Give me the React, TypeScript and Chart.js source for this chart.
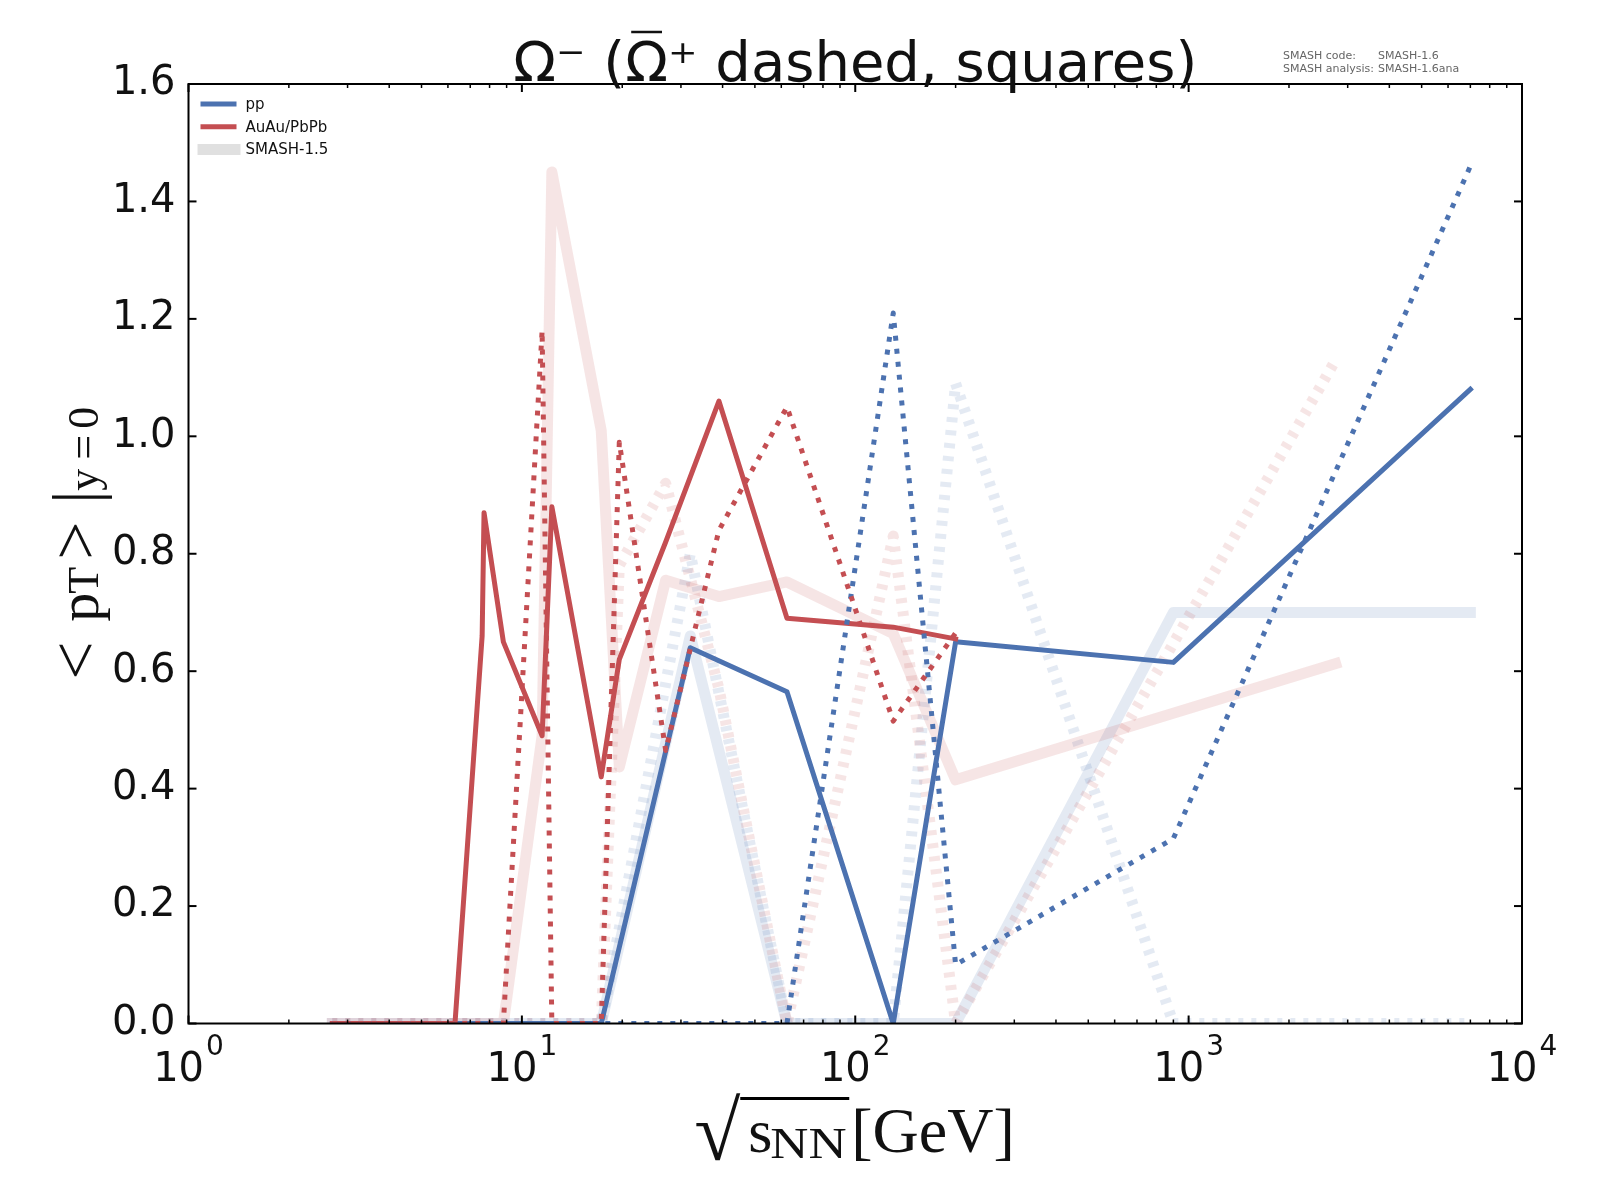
import React, { useEffect, useRef } from "react";
import { Chart, registerables } from "chart.js";

Chart.register(...registerables);

// ---------------- data ----------------
// pp (SMASH-1.6 and SMASH-1.5)
const ppEnergies = [2.7, 6.3, 8.8, 17.3, 32, 62.4, 130, 200, 900, 7000];
const ppOmega = [0, 0, 0, 0, 0.64, 0.565, 0.0, 0.65, 0.615, 1.08];
const ppAntiOmega = [0, 0, 0, 0, 0, 0, 1.21, 0.1, 0.315, 1.46];
const ppOmegaOld = [0, 0, 0, 0, 0.66, 0, 0, 0, 0.7, 0.7];
const ppAntiOmegaOld = [0, 0, 0, 0, 0.8, 0, 0, 1.09, 0, 0];

// AuAu / PbPb (SMASH-1.6)
const aaEnergies = [2.7, 4.3, 6.3, 7.6, 7.7, 8.8, 11.5, 12.3, 17.3, 19.6, 27, 39, 62.4, 130, 200];
const aaOmega = [0, 0, 0, 0.66, 0.87, 0.65, 0.49, 0.88, 0.42, 0.62, 0.82, 1.06, 0.69, 0.675, 0.655];
const aaAntiOmega = [0, 0, 0, 0, 0, 0, 1.18, 0, 0, 0.99, 0.465, 0.84, 1.05, 0.515, 0.665];

// AuAu / PbPb (SMASH-1.5)
const aaEnergiesOld = [2.7, 4.3, 6.3, 7.6, 7.7, 8.8, 11.5, 12.3, 17.3, 19.6, 27, 39, 62.4, 130, 200, 2760];
const aaOmegaOld = [0, 0, 0, 0, 0, 0, 0.49, 1.45, 1.01, 0.437, 0.755, 0.727, 0.752, 0.664, 0.415, 0.613];
const aaAntiOmegaOld = [0, 0, 0, 0, 0, 0, 0, 0, 0, 0.78, 0.92, 0.57, 0, 0.83, 0, 1.13];

// axes / text
const xMin = 1;
const xMax = 10000;
const yMin = 0;
const yMax = 1.6;
const yStep = 0.2;
const xDecades = [1, 10, 100, 1000, 10000];
const xExponents = ["0", "1", "2", "3", "4"];
const legendLabels = ["pp", "AuAu/PbPb", "SMASH-1.5"];
const titleParts = ["Ω⁻ (", "Ω", "⁺ dashed, squares)"];
const versionLabels = ["SMASH code:", "SMASH analysis:"];
const versionValues = ["SMASH-1.6", "SMASH-1.6ana"];

// ---------------- style ----------------
const BLUE = "#4c72b0";
const RED = "#c44e52";
const BLUE_FADED = "rgba(76,114,176,0.15)";
const RED_FADED = "rgba(196,78,82,0.15)";
const GREY_FADED = "rgba(0,0,0,0.12)";
const DOT = [5, 8];
const SANS = "'DejaVu Sans', sans-serif";
const SERIF = "'Liberation Serif', 'DejaVu Serif', serif";

const toPoints = (xs: number[], ys: number[]) => xs.map((x, i) => ({ x, y: ys[i] }));

function makeLine(data: { x: number; y: number }[], color: string, width: number, dotted: boolean, order: number) {
  return {
    data,
    borderColor: color,
    backgroundColor: color,
    borderWidth: width,
    borderDash: dotted ? DOT : [],
    borderCapStyle: dotted ? "butt" : "square",
    borderJoinStyle: "round",
    pointRadius: 0,
    pointHoverRadius: 0,
    tension: 0,
    fill: false,
    clip: 0,
    order,
  } as any;
}

const decorPlugin = {
  id: "decor",
  afterDraw(chart: any) {
    const { ctx, chartArea: a, scales } = chart;
    const xs = scales.x;
    const ys = scales.y;
    const cx = (a.left + a.right) / 2;
    const cy = (a.top + a.bottom) / 2;
    ctx.save();

    const seg = (x1: number, y1: number, x2: number, y2: number) => {
      ctx.beginPath();
      ctx.moveTo(x1, y1);
      ctx.lineTo(x2, y2);
      ctx.stroke();
    };

    // ticks (inward, all four sides)
    ctx.strokeStyle = "#000";
    ctx.lineWidth = 1.5;
    for (let k = 0; k < xDecades.length - 1; k++) {
      for (let d = 2; d <= 9; d++) {
        const px = xs.getPixelForValue(d * xDecades[k]);
        seg(px, a.bottom, px, a.bottom - 4);
        seg(px, a.top, px, a.top + 4);
      }
    }
    ctx.lineWidth = 2;
    xDecades.forEach((v) => {
      const px = xs.getPixelForValue(v);
      seg(px, a.bottom, px, a.bottom - 8);
      seg(px, a.top, px, a.top + 8);
    });
    ys.ticks.forEach((t: any) => {
      const py = ys.getPixelForValue(t.value);
      seg(a.left, py, a.left + 8, py);
      seg(a.right, py, a.right - 8, py);
    });

    // frame
    ctx.lineWidth = 2;
    ctx.strokeRect(a.left, a.top, a.right - a.left, a.bottom - a.top);

    // x tick labels 10^n
    ctx.fillStyle = "#111";
    ctx.textBaseline = "alphabetic";
    ctx.textAlign = "left";
    xDecades.forEach((v, i) => {
      const px = xs.getPixelForValue(v);
      ctx.font = `40px ${SANS}`;
      const w10 = ctx.measureText("10").width;
      ctx.font = `28px ${SANS}`;
      const we = ctx.measureText(xExponents[i]).width;
      const start = px - (w10 + we + 2) / 2;
      ctx.font = `40px ${SANS}`;
      ctx.fillText("10", start, a.bottom + 57);
      ctx.font = `28px ${SANS}`;
      ctx.fillText(xExponents[i], start + w10 + 2, a.bottom + 31);
    });

    // x axis title: sqrt(s_NN) [GeV]
    {
      const base = a.bottom + 128;
      const x0 = cx - 157;
      ctx.font = `84px ${SERIF}`;
      ctx.fillText("√", x0 - 4, base + 8);
      ctx.lineWidth = 3;
      seg(x0 + 42, a.bottom + 75, x0 + 151, a.bottom + 75);
      ctx.font = `62px ${SERIF}`;
      ctx.fillText("s", x0 + 50, base);
      ctx.font = `44px ${SERIF}`;
      ctx.save();
      ctx.scale(1.2, 1);
      ctx.fillText("NN", (x0 + 72) / 1.2, base + 6);
      ctx.restore();
      ctx.font = `64px ${SERIF}`;
      ctx.fillText("[GeV]", x0 + 153, base);
    }

    // y axis title: <p_T>|_{y=0}
    {
      const pieces = [
        { t: "<", size: 68, at: 126, sub: false },
        { t: "p", size: 58, at: 68, sub: false },
        { t: "T", size: 44, at: 40, sub: true },
        { t: ">", size: 68, at: 6, sub: false },
        { t: "|", size: 66, at: -50, sub: false },
        { t: "y", size: 44, at: -63, sub: true },
        { t: "=", size: 44, at: -94, sub: true },
        { t: "0", size: 44, at: -125, sub: true },
      ];
      ctx.save();
      ctx.translate(98, cy);
      ctx.rotate(-Math.PI / 2);
      pieces.forEach((p) => {
        ctx.font = `${p.size}px ${SERIF}`;
        ctx.fillText(p.t, -p.at, p.sub ? 0 : 0);
      });
      ctx.restore();
    }

    // title with overbar on the second Omega
    {
      ctx.font = `56px ${SANS}`;
      ctx.fillStyle = "#111";
      ctx.textAlign = "left";
      const widths = titleParts.map((p) => ctx.measureText(p).width);
      const total = widths.reduce((s, w) => s + w, 0);
      let x = cx - total / 2;
      const base = a.top - 3;
      titleParts.forEach((p, i) => {
        ctx.fillText(p, x, base);
        if (i === 1) {
          ctx.strokeStyle = "#111";
          ctx.lineWidth = 2.5;
          seg(x + 6, base - 49, x + widths[i] - 6, base - 49);
        }
        x += widths[i];
      });
    }

    // version text (top right)
    ctx.font = `11px ${SANS}`;
    ctx.textAlign = "left";
    ctx.fillStyle = "#666";
    versionLabels.forEach((lab, i) => {
      ctx.fillText(lab, 1283, 59 + i * 12.5);
      ctx.fillText(versionValues[i], 1378, 59 + i * 12.5);
    });

    // legend
    const legendColors = [BLUE, RED, GREY_FADED];
    const legendWidths = [5, 5, 11];
    ctx.textBaseline = "middle";
    ctx.font = `15px ${SANS}`;
    legendLabels.forEach((lab, i) => {
      const y = a.top + 20 + i * 22.7;
      ctx.strokeStyle = legendColors[i];
      ctx.lineWidth = legendWidths[i];
      ctx.lineCap = "butt";
      if (i === 2) seg(a.left + 9, y, a.left + 52, y);
      else seg(a.left + 12, y, a.left + 48, y);
      ctx.fillStyle = "#111";
      ctx.fillText(lab, a.left + 57, y + 1);
    });

    ctx.restore();
  },
};

export default function App() {
  const ref = useRef<HTMLCanvasElement | null>(null);

  useEffect(() => {
    if (!ref.current) return;
    const datasets = [
      makeLine(toPoints(ppEnergies, ppOmegaOld), BLUE_FADED, 11, false, 8),
      makeLine(toPoints(ppEnergies, ppAntiOmegaOld), BLUE_FADED, 11, true, 7),
      makeLine(toPoints(aaEnergiesOld, aaOmegaOld), RED_FADED, 11, false, 6),
      makeLine(toPoints(aaEnergiesOld, aaAntiOmegaOld), RED_FADED, 11, true, 5),
      makeLine(toPoints(ppEnergies, ppOmega), BLUE, 5, false, 4),
      makeLine(toPoints(aaEnergies, aaOmega), RED, 5, false, 3),
      makeLine(toPoints(ppEnergies, ppAntiOmega), BLUE, 5, true, 2),
      makeLine(toPoints(aaEnergies, aaAntiOmega), RED, 5, true, 1),
    ];
    const chart = new Chart(ref.current, {
      type: "line",
      data: { datasets },
      options: {
        animation: false,
        responsive: false,
        devicePixelRatio: 1,
        layout: { padding: { top: 84, right: 78, left: 0, bottom: 0 } },
        plugins: {
          legend: { display: false },
          tooltip: { enabled: false },
          title: { display: false },
        },
        scales: {
          x: {
            type: "logarithmic",
            min: xMin,
            max: xMax,
            ticks: { display: false },
            grid: { display: false, drawTicks: false },
            border: { display: false },
            afterFit: (s: any) => {
              s.height = 176.5;
            },
          },
          y: {
            type: "linear",
            min: yMin,
            max: yMax,
            ticks: {
              stepSize: yStep,
              callback: (v: any) => Number(v).toFixed(1),
              font: { family: "DejaVu Sans", size: 40 },
              color: "#111",
              padding: 13,
            },
            grid: { display: false, drawTicks: false },
            border: { display: false },
            afterFit: (s: any) => {
              s.width = 188.5;
            },
          },
        },
      } as any,
      plugins: [decorPlugin],
    });
    return () => chart.destroy();
  }, []);

  return (
    <div style={{ position: "absolute", left: 0, top: 0, width: 1600, height: 1200, background: "#fff" }}>
      <canvas ref={ref} width={1600} height={1200} style={{ display: "block", width: 1600, height: 1200 }} />
    </div>
  );
}
